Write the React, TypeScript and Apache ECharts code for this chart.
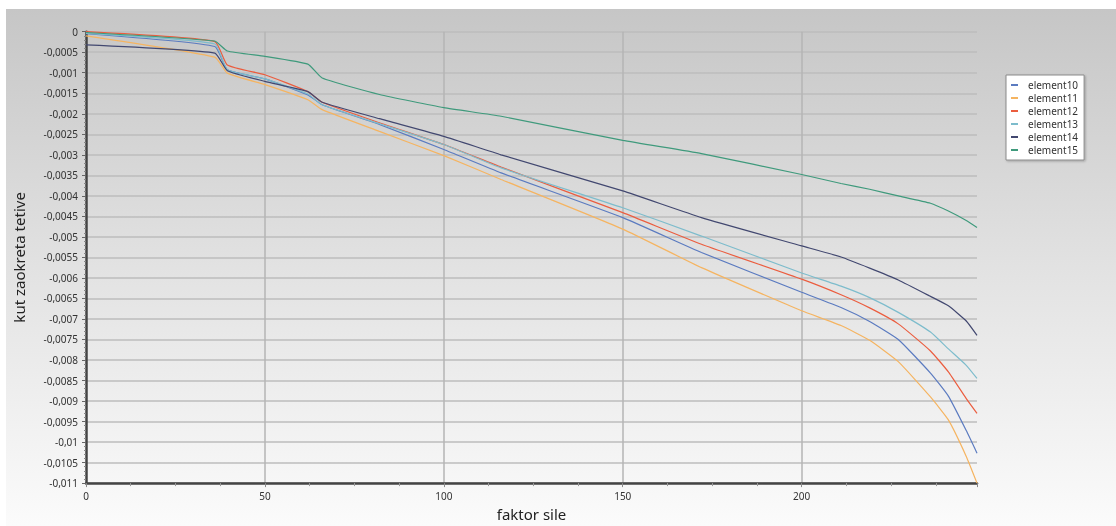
import React, { useEffect, useRef } from "react";
import * as echarts from "echarts";

const xValues = [0, 36, 39.5, 50, 62, 66, 82, 100, 116, 150, 172, 200, 211, 219, 227, 236, 241, 246, 249];
const seriesNames = ["element10", "element11", "element12", "element13", "element14", "element15"];
const element10 = [-0.00005, -0.00036, -0.00093, -0.00115, -0.00154, -0.00178, -0.00226, -0.00287, -0.00344, -0.00453, -0.00538, -0.00635, -0.00672, -0.00706, -0.0075, -0.00832, -0.00888, -0.00972, -0.01027];
const element11 = [-0.0001, -0.00062, -0.00101, -0.00129, -0.00166, -0.0019, -0.00243, -0.00302, -0.0036, -0.00481, -0.00575, -0.0068, -0.00716, -0.00752, -0.00804, -0.0089, -0.00946, -0.01035, -0.011];
const element12 = [0, -0.00024, -0.00081, -0.00105, -0.00146, -0.00172, -0.00222, -0.00275, -0.0033, -0.00441, -0.00518, -0.00603, -0.00641, -0.00673, -0.00712, -0.00778, -0.00829, -0.00894, -0.0093];
const element13 = [-0.00004, -0.0003, -0.00093, -0.00115, -0.00152, -0.00178, -0.00224, -0.00275, -0.00332, -0.00429, -0.00498, -0.00588, -0.0062, -0.00648, -0.00684, -0.00732, -0.00773, -0.00813, -0.00845];
const element14 = [-0.00032, -0.00052, -0.00095, -0.00121, -0.00146, -0.00172, -0.00212, -0.00255, -0.003, -0.00388, -0.00453, -0.00522, -0.00549, -0.00576, -0.00605, -0.00645, -0.00668, -0.00705, -0.0074];
const element15 = [-0.00002, -0.00023, -0.00047, -0.0006, -0.00079, -0.00113, -0.00153, -0.00185, -0.00206, -0.00265, -0.00297, -0.00348, -0.0037, -0.00384, -0.004, -0.00418, -0.00437, -0.0046, -0.00477];
const seriesValues = [element10, element11, element12, element13, element14, element15];
const colors = ["#5b7bc0", "#f5b461", "#eb5d3f", "#7dbccc", "#424870", "#3f9a7c"];

const xAxisName = "faktor sile";
const yAxisName = "kut zaokreta tetive";

export default function App() {
  const ref = useRef<HTMLDivElement>(null);
  useEffect(() => {
    if (!ref.current) return;
    const chart = echarts.init(ref.current, undefined, { renderer: "svg" });
    const font = "'Noto Sans', 'DejaVu Sans', sans-serif";
    chart.setOption({
      animation: false,
      graphic: [
        {
          type: "rect",
          z: -10,
          silent: true,
          shape: { x: 6, y: 9, width: 1110, height: 517 },
          style: {
            fill: new echarts.graphic.LinearGradient(0, 0, 0, 1, [
              { offset: 0, color: "#c6c6c6" },
              { offset: 0.5, color: "#e2e2e2" },
              { offset: 1, color: "#fbfbfb" },
            ]),
          },
        },
      ],
      grid: { left: 86, right: 139, top: 31.7, bottom: 41.3, containLabel: false },
      legend: {
        orient: "vertical",
        left: 1006,
        top: 75,
        icon: "rect",
        itemWidth: 7,
        itemHeight: 2,
        itemGap: 1,
        padding: [4, 6, 4, 5],
        backgroundColor: "#ffffff",
        borderColor: "#8a8a8a",
        borderWidth: 1,
        shadowColor: "rgba(0,0,0,0.25)",
        shadowBlur: 2,
        shadowOffsetX: 1,
        shadowOffsetY: 1,
        textStyle: { fontFamily: font, fontSize: 10, color: "#333", lineHeight: 12, padding: [0, 0, 0, 5] },
        data: seriesNames,
      },
      xAxis: {
        type: "value",
        min: 0,
        max: 249,
        interval: 50,
        name: xAxisName,
        nameLocation: "middle",
        nameGap: 22,
        nameTextStyle: { fontFamily: font, fontSize: 15, color: "#222" },
        axisLine: { show: true, onZero: false, lineStyle: { color: "#444", width: 2.5 } },
        axisTick: { show: true, length: 4, lineStyle: { color: "#888" } },
        minorTick: { show: true, splitNumber: 4, length: 3, lineStyle: { color: "#999" } },
        axisLabel: { fontFamily: font, fontSize: 10, color: "#333", showMaxLabel: false, margin: 8 },
        splitLine: { show: true, showMinLine: false, showMaxLine: false, lineStyle: { color: "#b5b5b5", width: 1.5 } },
      },
      yAxis: {
        type: "value",
        min: -0.011,
        max: 0,
        interval: 0.0005,
        name: yAxisName,
        nameLocation: "middle",
        nameGap: 60,
        nameTextStyle: { fontFamily: font, fontSize: 15, color: "#222" },
        axisLine: { show: true, onZero: false, lineStyle: { color: "#444", width: 2.5 } },
        axisTick: { show: true, length: 4, lineStyle: { color: "#666" } },
        minorTick: { show: true, splitNumber: 5, length: 2, lineStyle: { color: "#888" } },
        axisLabel: {
          fontFamily: font,
          fontSize: 10,
          color: "#333",
          margin: 8,
          formatter: (v: number) => String(Number(v.toFixed(5))).replace(".", ","),
        },
        splitLine: { show: true, lineStyle: { color: "#bcbcbc", width: 1.5 } },
      },
      series: seriesNames.map((name, i) => ({
        name,
        type: "line",
        showSymbol: false,
        symbol: "none",
        smooth: 0.15,
        color: colors[i],
        lineStyle: { width: 1.2, color: colors[i] },
        data: xValues.map((x, j) => [x, seriesValues[i][j]]),
      })),
    });
    return () => chart.dispose();
  }, []);
  return <div ref={ref} style={{ position: "fixed", left: 0, top: 0, width: 1116, height: 526 }} />;
}
